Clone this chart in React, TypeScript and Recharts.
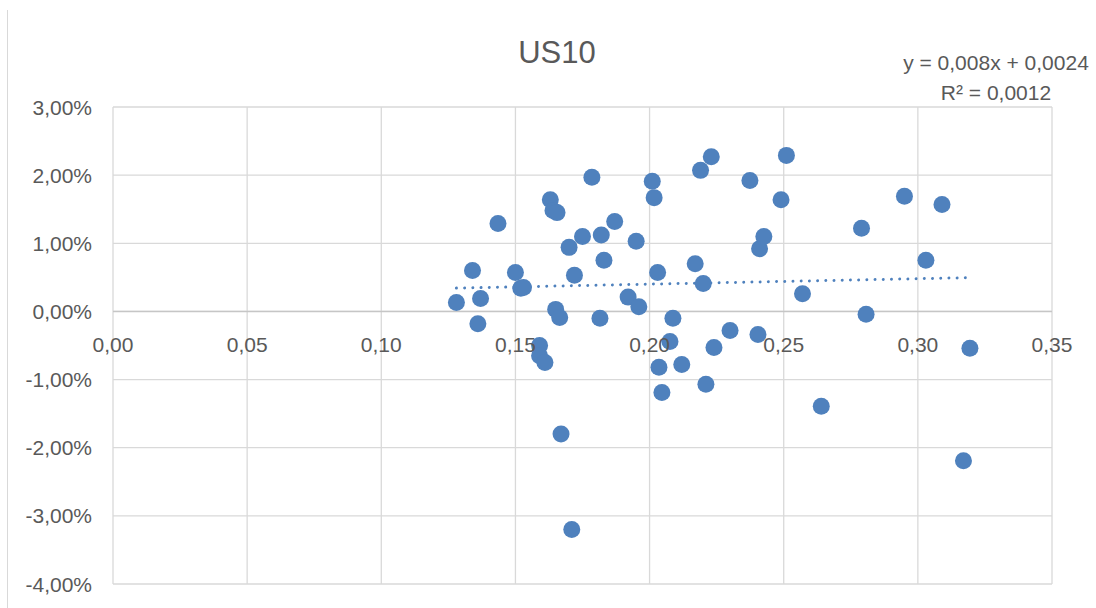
import { ScatterChart, Scatter, XAxis, YAxis, CartesianGrid, ReferenceLine } from 'recharts'

// daily move of the 10y vs. yield level
const xValues = [
  0.128, 0.134, 0.136, 0.137, 0.1435, 0.150, 0.152, 0.153, 0.159, 0.159,
  0.161, 0.163, 0.164, 0.1655, 0.165, 0.1665, 0.167, 0.170, 0.171, 0.172,
  0.175, 0.1785, 0.1815, 0.182, 0.183, 0.187, 0.192, 0.195, 0.196, 0.201,
  0.2017, 0.203, 0.2035, 0.2046, 0.2076, 0.2087, 0.212, 0.217, 0.219, 0.220,
  0.221, 0.223, 0.224, 0.230, 0.2374, 0.2404, 0.241, 0.2426, 0.249, 0.251,
  0.257, 0.264, 0.279, 0.2807, 0.295, 0.303, 0.309, 0.317, 0.3194,
]
const yValues = [
  0.13, 0.60, -0.18, 0.19, 1.29, 0.57, 0.34, 0.35, -0.50, -0.65,
  -0.75, 1.64, 1.48, 1.45, 0.03, -0.09, -1.80, 0.94, -3.20, 0.53,
  1.10, 1.97, -0.10, 1.12, 0.75, 1.32, 0.21, 1.03, 0.07, 1.91,
  1.67, 0.57, -0.82, -1.19, -0.44, -0.10, -0.78, 0.70, 2.07, 0.41,
  -1.07, 2.27, -0.53, -0.28, 1.92, -0.34, 0.92, 1.10, 1.64, 2.29,
  0.26, -1.39, 1.22, -0.04, 1.69, 0.75, 1.57, -2.19, -0.54,
]
const xTicks = [0, 0.05, 0.1, 0.15, 0.2, 0.25, 0.3, 0.35]
const yTicks = [-4, -3, -2, -1, 0, 1, 2, 3]

// linear trendline as printed on the chart
const trendSlope = 0.008
const trendIntercept = 0.0024

const W = 1096
const H = 608
const PLOT_LEFT = 113
const PLOT_RIGHT = 1052
const PLOT_TOP = 107
const PLOT_BOTTOM = 584
const ZERO_Y = PLOT_TOP + ((3 - 0) / 7) * (PLOT_BOTTOM - PLOT_TOP)

const BLUE = '#4f81bd'
const TEXT = '#595959'
const FONT = '"Liberation Sans", Arial, sans-serif'

const points = xValues.map((x, i) => ({ x, y: yValues[i] }))
const xMin = Math.min(...xValues)
const xMax = Math.max(...xValues)
const trend = [xMin, xMax].map((x) => ({ x, y: (trendSlope * x + trendIntercept) * 100 }))

const fmt = (v: number, digits: number) => v.toFixed(digits).replace('.', ',')

const renderXTick = ({ x, payload }: any) => (
  <text key={'x' + payload.value} x={x} y={ZERO_Y + 33} textAnchor="middle" dominantBaseline="central" fill={TEXT} fontSize={21} fontFamily={FONT}>
    {fmt(payload.value, 2)}
  </text>
)

const renderYTick = ({ y, payload }: any) => (
  <text key={'y' + payload.value} x={92} y={y} textAnchor="end" dominantBaseline="central" fill={TEXT} fontSize={21} fontFamily={FONT}>
    {fmt(payload.value, 2) + '%'}
  </text>
)

const Dot = (props: any) => <circle cx={props.cx} cy={props.cy} r={8.5} fill={BLUE} />

export default function App() {
  return (
    <div style={{ position: 'absolute', left: 0, top: 0, width: W, height: H, background: '#fff', fontFamily: FONT }}>
      <div style={{ position: 'absolute', left: 7, top: 10, width: 1, height: H - 10, background: '#d9d9d9' }} />
      <ScatterChart
        width={W}
        height={H}
        margin={{ top: PLOT_TOP, right: W - PLOT_RIGHT, bottom: 0, left: 0 }}
      >
        <CartesianGrid stroke="#d9d9d9" strokeWidth={1.3} />
        <XAxis
          type="number"
          dataKey="x"
          domain={[0, 0.35]}
          ticks={xTicks}
          height={H - PLOT_BOTTOM}
          axisLine={false}
          tickLine={false}
          tick={renderXTick}
          interval={0}
        />
        <YAxis
          type="number"
          dataKey="y"
          domain={[-4, 3]}
          ticks={yTicks}
          width={PLOT_LEFT}
          axisLine={false}
          tickLine={false}
          tick={renderYTick}
          interval={0}
        />
        <ReferenceLine y={0} stroke="#c6c6c6" strokeWidth={1.6} />
        <Scatter
          data={trend}
          isAnimationActive={false}
          line={{ stroke: BLUE, strokeWidth: 3, strokeDasharray: '0.01 8.2', strokeLinecap: 'round' }}
          shape={() => <g />}
        />
        <Scatter data={points} isAnimationActive={false} shape={Dot} />
      </ScatterChart>
      <div style={{ position: 'absolute', left: 557, top: 52, transform: 'translate(-50%, -50%)', fontSize: 31, lineHeight: '31px', color: TEXT, whiteSpace: 'nowrap' }}>
        US10
      </div>
      <div style={{ position: 'absolute', left: 996, top: 78, transform: 'translate(-50%, -50%)', fontSize: 21, lineHeight: '30px', color: TEXT, whiteSpace: 'nowrap', textAlign: 'center' }}>
        <div>y = {fmt(trendSlope, 3)}x + {fmt(trendIntercept, 4)}</div>
        <div>R² = 0,0012</div>
      </div>
    </div>
  )
}
